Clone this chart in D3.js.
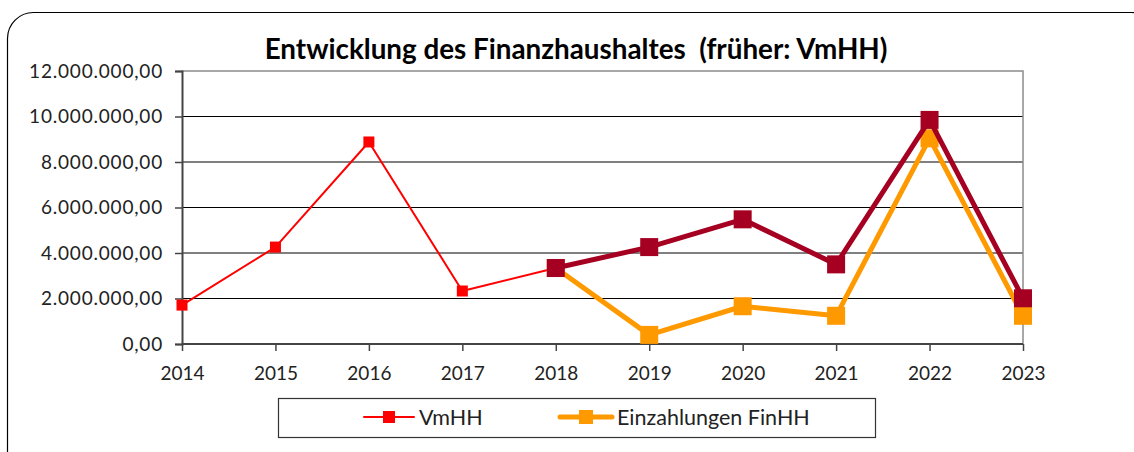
<!DOCTYPE html>
<html><head><meta charset="utf-8">
<script src="https://cdn.jsdelivr.net/npm/d3@7"></script>
<style>body{margin:0;background:#fff}svg{display:block}</style>
</head><body>
<svg id="c" width="1134" height="452"></svg>
<script>
const years = ["2014","2015","2016","2017","2018","2019","2020","2021","2022","2023"];
const yTicks = [0, 2000000, 4000000, 6000000, 8000000, 10000000, 12000000];
const vmhh = [1710000, 4260000, 8880000, 2330000, 3340000, null, null, null, null, null];
const auszahlungen = [null, null, null, null, 3340000, 4260000, 5480000, 3500000, 9850000, 2010000];
const einzahlungen = [null, null, null, null, 3340000, 400000, 1660000, 1240000, 9040000, 1240000];
const titleText = "Entwicklung des Finanzhaushaltes  (früher: VmHH)";
const legendNames = ["VmHH", "Einzahlungen FinHH"];

const svg = d3.select("#c");
const font = "Lato, 'Open Sans', sans-serif";
const M = {l:182, r:1023, t:71, b:344};

svg.append("rect").attr("x",7.5).attr("y",12.5).attr("width",1150).attr("height",480)
  .attr("rx",26).attr("fill","#fff").attr("stroke","#000").attr("stroke-width",1.2);

svg.append("text").attr("x",576).attr("y",59).attr("text-anchor","middle")
  .attr("font-family",font).attr("font-weight","bold").attr("font-size",27.8).attr("fill","#000")
  .style("white-space","pre")
  .text(titleText);

const x = d3.scalePoint().domain(years).range([M.l, M.r]);
const y = d3.scaleLinear().domain([0,12000000]).range([M.b, M.t]);

// gridlines
svg.append("g").selectAll("line").data(yTicks.filter(d=>d>0 && d<12000000)).join("line")
  .attr("x1",M.l).attr("x2",M.r).attr("y1",d=>y(d)).attr("y2",d=>y(d))
  .attr("stroke","#000").attr("stroke-width",1);
// plot frame top/right
svg.append("path").attr("d",`M${M.l},${y(12000000)}H${M.r}V${M.b}`).attr("fill","none")
  .attr("stroke","#8c8c8c").attr("stroke-width",1.5);

const fmt = v => d3.format(",.2f")(v).replace(/,/g,"#").replace(/\./g,",").replace(/#/g,".");
const yAxis = svg.append("g").attr("transform",`translate(${M.l},0)`)
  .call(d3.axisLeft(y).tickValues(yTicks).tickFormat(fmt).tickSize(7).tickPadding(12));
yAxis.select(".domain").attr("stroke","#444").attr("stroke-width",2);
yAxis.selectAll(".tick line").attr("stroke","#444").attr("stroke-width",1.5);
yAxis.selectAll("text").attr("font-family",font).attr("font-size",19).attr("letter-spacing",0.8).attr("fill","#222");

const xAxis = svg.append("g").attr("transform",`translate(0,${M.b})`)
  .call(d3.axisBottom(x).tickSize(7).tickPadding(16));
xAxis.select(".domain").attr("stroke","#444").attr("stroke-width",2).attr("d",`M${M.l},0H${M.r}`);
xAxis.selectAll(".tick line").attr("stroke","#444").attr("stroke-width",1.5);
xAxis.selectAll("text").attr("font-family",font).attr("font-size",19).attr("fill","#222");

function series(vals, color, lw, ms){
  const pts = vals.map((v,i)=>({x:years[i], v})).filter(d=>d.v!=null);
  const line = d3.line().x(d=>x(d.x)).y(d=>y(d.v));
  svg.append("path").datum(pts).attr("d",line).attr("fill","none")
    .attr("stroke",color).attr("stroke-width",lw).attr("stroke-linejoin","round");
  svg.append("g").selectAll("rect").data(pts).join("rect")
    .attr("x",d=>x(d.x)-ms/2).attr("y",d=>y(d.v)-ms/2).attr("width",ms).attr("height",ms).attr("fill",color);
}
series(vmhh, "#ff0000", 2, 11);
series(einzahlungen, "#ff9900", 5, 18);
series(auszahlungen, "#a50021", 5, 18);

// legend
const lg = svg.append("g");
lg.append("rect").attr("x",278.5).attr("y",398.5).attr("width",597).attr("height",39)
  .attr("fill","#fff").attr("stroke","#333").attr("stroke-width",1.2);
const legItems = [
  {name:legendNames[0], color:"#ff0000", lw:2, ms:12, x0:364, x1:414},
  {name:legendNames[1], color:"#ff9900", lw:5, ms:14, x0:560, x1:612}
];
legItems.forEach(it=>{
  const cy = 417;
  lg.append("line").attr("x1",it.x0).attr("x2",it.x1).attr("y1",cy).attr("y2",cy)
    .attr("stroke",it.color).attr("stroke-width",it.lw).attr("stroke-linecap","round");
  lg.append("rect").attr("x",(it.x0+it.x1)/2-it.ms/2).attr("y",cy-it.ms/2).attr("width",it.ms).attr("height",it.ms).attr("fill",it.color);
  lg.append("text").attr("x",it.x1+5).attr("y",cy+7.5).attr("font-family",font).attr("font-size",21.5).attr("fill","#222").text(it.name);
});
</script>
</body></html>
